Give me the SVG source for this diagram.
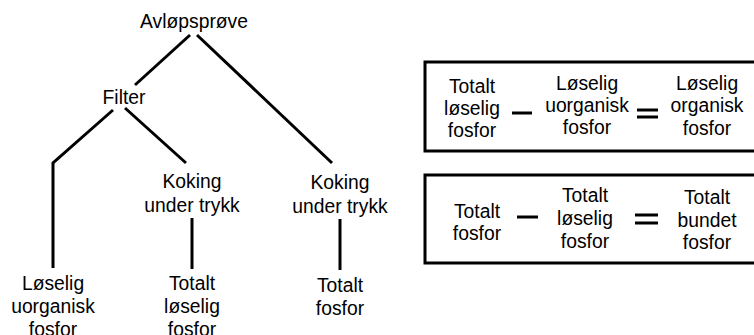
<svg xmlns="http://www.w3.org/2000/svg" width="754" height="335" viewBox="0 0 754 335">
<style>
text{font-family:"Liberation Sans",Arial,sans-serif;font-size:21px;fill:#000;text-anchor:middle}
.c line{stroke:#000;stroke-width:3;stroke-linecap:butt;fill:none}
.c polyline{stroke:#000;stroke-width:3;fill:none}
.box{fill:#fff;stroke:#000;stroke-width:3}
.op{stroke:#000;stroke-width:3}
</style>
<rect width="754" height="335" fill="#fff"/>
<g class="c" id="connectors">
<line x1="190" y1="35" x2="135" y2="85"/>
<line x1="197" y1="35" x2="332" y2="163"/>
<polyline points="113,110 53,163 53,268"/>
<line x1="125" y1="108" x2="186" y2="163"/>
<line x1="192" y1="218" x2="192" y2="269"/>
<line x1="340" y1="219" x2="340" y2="270"/>
</g>
<g id="n-avlop"><text transform="translate(194,0) scale(0.92,1)" x="0" y="28">Avløpsprøve</text></g>
<g id="n-filter"><text transform="translate(124,0) scale(0.92,1)" x="0" y="104">Filter</text></g>
<g id="n-koking1"><text transform="translate(192,0) scale(0.92,1)"><tspan x="0" y="188">Koking</tspan><tspan x="0" y="212">under trykk</tspan></text></g>
<g id="n-koking2"><text transform="translate(340,0) scale(0.92,1)"><tspan x="0" y="189">Koking</tspan><tspan x="0" y="213">under trykk</tspan></text></g>
<g id="n-luf"><text transform="translate(53,0) scale(0.92,1)"><tspan x="0" y="290">Løselig</tspan><tspan x="0" y="313">uorganisk</tspan><tspan x="0" y="336">fosfor</tspan></text></g>
<g id="n-tlf"><text transform="translate(192,0) scale(0.92,1)"><tspan x="0" y="290">Totalt</tspan><tspan x="0" y="313">løselig</tspan><tspan x="0" y="336">fosfor</tspan></text></g>
<g id="n-tf"><text transform="translate(340,0) scale(0.92,1)"><tspan x="0" y="292">Totalt</tspan><tspan x="0" y="315">fosfor</tspan></text></g>
<g id="eq1">
<rect class="box" x="425" y="62" width="340" height="89"/>
<text transform="translate(472,0) scale(0.92,1)"><tspan x="0" y="93">Totalt</tspan><tspan x="0" y="115">løselig</tspan><tspan x="0" y="137">fosfor</tspan></text>
<line class="op" x1="512" y1="113" x2="532" y2="113"/>
<text transform="translate(587,0) scale(0.92,1)"><tspan x="0" y="90">Løselig</tspan><tspan x="0" y="112">uorganisk</tspan><tspan x="0" y="134">fosfor</tspan></text>
<line class="op" x1="637" y1="110" x2="658" y2="110"/>
<line class="op" x1="637" y1="117" x2="658" y2="117"/>
<text transform="translate(707,0) scale(0.92,1)"><tspan x="0" y="90">Løselig</tspan><tspan x="0" y="112">organisk</tspan><tspan x="0" y="135">fosfor</tspan></text>
</g>
<g id="eq2">
<rect class="box" x="425" y="175" width="340" height="88"/>
<text transform="translate(477,0) scale(0.92,1)"><tspan x="0" y="218">Totalt</tspan><tspan x="0" y="240">fosfor</tspan></text>
<line class="op" x1="517" y1="217" x2="538" y2="217"/>
<text transform="translate(585,0) scale(0.92,1)"><tspan x="0" y="202">Totalt</tspan><tspan x="0" y="225">løselig</tspan><tspan x="0" y="248">fosfor</tspan></text>
<line class="op" x1="635" y1="215" x2="658" y2="215"/>
<line class="op" x1="635" y1="223" x2="658" y2="223"/>
<text transform="translate(707,0) scale(0.92,1)"><tspan x="0" y="204">Totalt</tspan><tspan x="0" y="227">bundet</tspan><tspan x="0" y="249">fosfor</tspan></text>
</g>
</svg>
